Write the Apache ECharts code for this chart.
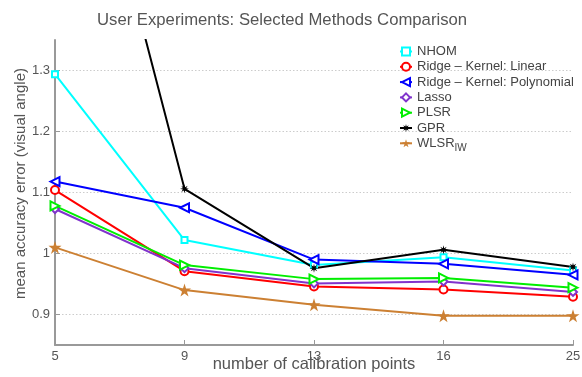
<!DOCTYPE html>
<html>
<head>
<meta charset="utf-8">
<script src="https://cdn.jsdelivr.net/npm/echarts@6/dist/echarts.min.js"></script>
<style>html,body{margin:0;padding:0;background:#fff;}#c{width:582px;height:377px;}</style>
</head>
<body>
<div id="c"></div>
<script>
const categories = ['5', '9', '13', '16', '25'];
const yTicks = [0.9, 1, 1.1, 1.2, 1.3];
const nhom = [1.294, 1.022, 0.981, 0.994, 0.972];
const ridgeLinear = [1.104, 0.971, 0.946, 0.941, 0.929];
const ridgePoly = [1.118, 1.075, 0.990, 0.983, 0.965];
const lasso = [1.073, 0.976, 0.951, 0.954, 0.937];
const plsr = [1.078, 0.981, 0.958, 0.960, 0.944];
const gpr = [1.922, 1.106, 0.976, 1.006, 0.978];
const wlsr = [1.010, 0.940, 0.916, 0.898, 0.898];

const starPath = 'path://M10 0 L3.7 1.53 L7.07 7.07 L1.53 3.7 L0 10 L-1.53 3.7 L-7.07 7.07 L-3.7 1.53 L-10 0 L-3.7 -1.53 L-7.07 -7.07 L-1.53 -3.7 L0 -10 L1.53 -3.7 L7.07 -7.07 L3.7 -1.53 Z';
const pentPath = 'path://M0 -10 L2.245 -3.09 L9.51 -3.09 L3.633 1.18 L5.88 8.09 L0 3.82 L-5.88 8.09 L-3.633 1.18 L-9.51 -3.09 L-2.245 -3.09 Z';

function mk(name, data, color, symbol, size, rotate, filled) {
  return {
    name: name, type: 'line', data: data, color: color,
    symbol: symbol, symbolSize: size, symbolRotate: rotate || 0,
    showAllSymbol: true, clip: true,
    lineStyle: {width: 2, color: color},
    itemStyle: filled ? {color: color, borderWidth: 0} : {color: color, borderColor: color, borderWidth: 1.6},
    emphasis: {disabled: true}
  };
}

const chart = echarts.init(document.getElementById('c'));
chart.setOption({
  animation: false,
  backgroundColor: '#fff',
  title: {
    text: 'User Experiments: Selected Methods Comparison',
    left: 97, top: 12, padding: 0,
    textStyle: {fontFamily: 'Liberation Sans', fontSize: 16.7, fontWeight: 'normal', color: '#555'}
  },
  legend: {
    orient: 'vertical', left: 399, top: 44, padding: 0,
    itemWidth: 12, itemHeight: 10, itemGap: 0.3,
    textStyle: {fontFamily: 'Liberation Sans', fontSize: 13, color: '#444', lineHeight: 15,
      rich: {s: {fontFamily: 'Liberation Sans', fontSize: 10, color: '#444', padding: [9, 0, 0, 0]}}},
    formatter: function (n) { return n === 'WLSR_IW' ? 'WLSR{s|IW}' : n; }
  },
  grid: {left: 55, right: 9, top: 40, bottom: 32, containLabel: false, outerBoundsMode: 'none'},
  xAxis: {
    type: 'category', data: categories, boundaryGap: false,
    name: 'number of calibration points', nameLocation: 'middle', nameGap: 11, nameMoveOverlap: false,
    nameTextStyle: {fontFamily: 'Liberation Sans', fontSize: 16.5, color: '#555'},
    axisLine: {lineStyle: {color: '#999', width: 2}},
    axisTick: {inside: true, length: 5, lineStyle: {color: '#999'}},
    axisLabel: {fontFamily: 'Liberation Sans', fontSize: 13, color: '#555', margin: 5},
    splitLine: {show: false}
  },
  yAxis: {
    type: 'value', min: 0.85, max: 1.35,
    name: 'mean accuracy error (visual angle)', nameLocation: 'middle', nameGap: 27, nameRotate: 90, nameMoveOverlap: false,
    nameTextStyle: {fontFamily: 'Liberation Sans', fontSize: 15, color: '#555', padding: [0, 0, 0, 18]},
    axisLine: {show: true, lineStyle: {color: '#999', width: 2}},
    axisTick: {show: true, inside: true, length: 5, lineStyle: {color: '#999'}, customValues: yTicks},
    axisLabel: {fontFamily: 'Liberation Sans', fontSize: 13, color: '#555', margin: 5, customValues: yTicks,
      formatter: function (v) { return String(+v.toFixed(2)); }},
    splitLine: {show: true, lineStyle: {color: '#ccc', type: [1.5, 2], width: 1}}
  },
  series: [
    mk('NHOM', nhom, '#00ffff', 'emptyRect', 6, 0, false),
    mk('Ridge – Kernel: Linear', ridgeLinear, '#ff0000', 'emptyCircle', 8, 0, false),
    mk('Ridge – Kernel: Polynomial', ridgePoly, '#0000ff', 'emptyTriangle', 9, 90, false),
    mk('Lasso', lasso, '#8033cc', 'emptyDiamond', 8, 0, false),
    mk('PLSR', plsr, '#00ee00', 'emptyTriangle', 9, -90, false),
    mk('GPR', gpr, '#000000', starPath, 9, 0, true),
    mk('WLSR_IW', wlsr, '#cc8033', pentPath, 13, 0, true)
  ]
});
</script>
</body>
</html>
